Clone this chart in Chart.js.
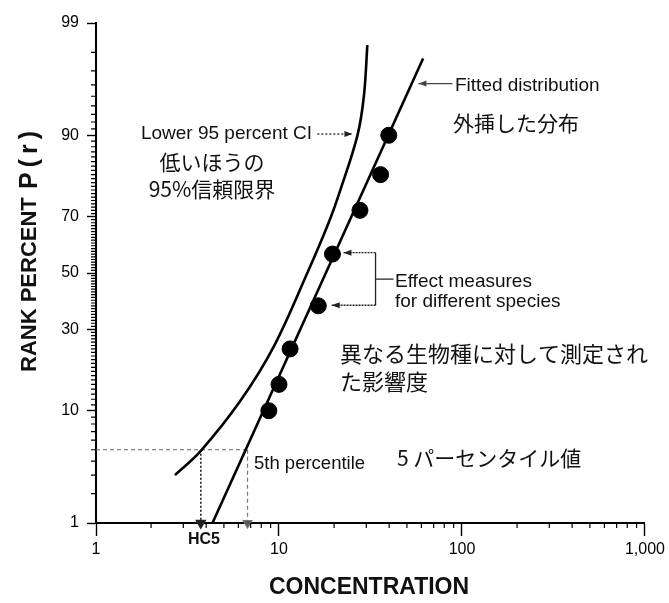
<!DOCTYPE html>
<html>
<head>
<meta charset="utf-8">
<script src="https://cdn.jsdelivr.net/npm/chart.js@4.4.1/dist/chart.umd.min.js"></script>
<style>
  body { margin: 0; background: #fff; }
  #wrap { width: 669px; height: 603px; }
</style>
</head>
<body>
<div id="wrap"><canvas id="ssdChart"></canvas></div>
<script>
// Effect measures for the species (concentration, rank percent)
const speciesConc = [8.8, 10.0, 11.5, 16.4, 19.6, 27.7, 35.9, 39.8];
const speciesRank = [10, 15, 24, 38, 57, 72, 82, 90];
// Fitted distribution (straight line on probit / log paper)
const fittedConc = [4.33, 61.3];
const fittedRank = [1, 97.7];
// Lower 95 percent confidence limit
const lowerConc = [2.7, 3.74, 6.18, 9.39, 14.3, 18.7, 21.7, 26.8, 29.1, 30.4];
const lowerRank = [3.0, 4.9, 11.8, 24.8, 50.1, 68.1, 78.2, 89.9, 95.0, 98.3];
// 5th percentile read-offs
const pct5Rank = 5;
const hc5Conc = 3.74;
const fit5Conc = 6.73;
// Axis ticks
const yTickPercents = [1, 10, 30, 50, 70, 90, 99];
const yTickLabels = ["1", "10", "30", "50", "70", "90", "99"];
const xTickValues = [1, 10, 100, 1000];
const xTickLabels = ["1", "10", "100", "1,000"];
const xMinorValues = [2, 3, 4, 5, 6, 7, 8, 9, 20, 30, 40, 50, 60, 70, 80, 90, 200, 300, 400, 500, 600, 700, 800, 900];
const yMinorPercents = [];
for (let p = 2; p <= 98; p++) {
  if (!yTickPercents.includes(p)) yMinorPercents.push(p);
}

const SANS = '"Liberation Sans", Arial, Helvetica, sans-serif';
const JP = '"Noto Sans CJK JP", "Noto Sans", sans-serif';

//Inverse normal CDF (probability paper), percent -> z
function probit(percent) {
  const p = percent / 100;
  const a = [-39.69683028665376, 220.9460984245205, -275.9285104469687, 138.357751867269, -30.66479806614716, 2.506628277459239];
  const b = [-54.47609879822406, 161.5858368580409, -155.6989798598866, 66.80131188771972, -13.28068155288572];
  const c = [-0.007784894002430293, -0.3223964580411365, -2.400758277161838, -2.549732539343734, 4.374664141464968, 2.938163982698783];
  const d = [0.007784695709041462, 0.3224671290700398, 2.445134137142996, 3.754408661907416];
  const tail = (q) =>
    (((((c[0] * q + c[1]) * q + c[2]) * q + c[3]) * q + c[4]) * q + c[5]) /
    ((((d[0] * q + d[1]) * q + d[2]) * q + d[3]) * q + 1);
  if (p < 0.02425) return tail(Math.sqrt(-2 * Math.log(p)));
  if (p > 0.97575) return -tail(Math.sqrt(-2 * Math.log(1 - p)));
  const q = p - 0.5, r = q * q;
  return ((((((a[0] * r + a[1]) * r + a[2]) * r + a[3]) * r + a[4]) * r + a[5]) * q) /
    (((((b[0] * r + b[1]) * r + b[2]) * r + b[3]) * r + b[4]) * r + 1);
}

const toPoints = (xs, ps) => xs.map((x, i) => ({ x: x, y: probit(ps[i]) }));

//Draws the short minor ticks on both axes
const minorTicks = {
  id: "minorTicks",
  afterDraw(chart) {
    const { ctx, chartArea, scales } = chart;
    ctx.save();
    ctx.strokeStyle = "#000";
    ctx.lineWidth = 1.2;
    ctx.beginPath();
    yMinorPercents.forEach((p) => {
      const y = scales.y.getPixelForValue(probit(p));
      ctx.moveTo(chartArea.left - 5, y);
      ctx.lineTo(chartArea.left, y);
    });
    xMinorValues.forEach((v) => {
      const x = scales.x.getPixelForValue(v);
      ctx.moveTo(x, chartArea.bottom);
      ctx.lineTo(x, chartArea.bottom + 5);
    });
    ctx.stroke();
    ctx.restore();
  },
};

//Labels, arrows and axis titles
const notes = {
  id: "notes",
  afterDraw(chart) {
    const { ctx, scales } = chart;
    const px = (v) => scales.x.getPixelForValue(v);
    const py = (p) => scales.y.getPixelForValue(probit(p));

    function arrow(x1, y1, x2, y2, dash, color) {
      ctx.save();
      ctx.strokeStyle = color;
      ctx.fillStyle = color;
      ctx.lineWidth = 1.3;
      ctx.setLineDash(dash);
      ctx.beginPath();
      ctx.moveTo(x1, y1);
      ctx.lineTo(x2, y2);
      ctx.stroke();
      ctx.setLineDash([]);
      const ang = Math.atan2(y2 - y1, x2 - x1);
      ctx.beginPath();
      ctx.moveTo(x2, y2);
      ctx.lineTo(x2 - 8 * Math.cos(ang) + 3 * Math.sin(ang), y2 - 8 * Math.sin(ang) - 3 * Math.cos(ang));
      ctx.lineTo(x2 - 8 * Math.cos(ang) - 3 * Math.sin(ang), y2 - 8 * Math.sin(ang) + 3 * Math.cos(ang));
      ctx.closePath();
      ctx.fill();
      ctx.restore();
    }

    function text(str, x, y, font, align) {
      ctx.font = font;
      ctx.textAlign = align || "left";
      ctx.fillText(str, x, y);
    }

    // arrows
    arrow(px(16.2), py(90.2), px(25.2), py(90.2), [2, 2], "#222");
    arrow(px(88.6), py(96.1), px(57.8), py(96.1), [], "#444");
    ctx.save();
    ctx.strokeStyle = "#222";
    ctx.lineWidth = 1.3;
    ctx.beginPath();
    ctx.moveTo(px(42.2), py(47.7));
    ctx.lineTo(px(33.7), py(47.7));
    ctx.moveTo(px(33.7), py(57.5));
    ctx.lineTo(px(33.7), py(38.2));
    ctx.stroke();
    ctx.restore();
    arrow(px(33.7), py(57.5), px(22.5), py(57.5), [2, 1], "#222");
    arrow(px(33.7), py(38.2), px(19.4), py(38.2), [2, 1], "#222");

    ctx.save();
    ctx.fillStyle = "#111";
    ctx.textBaseline = "middle";
    text("Lower 95 percent CI", 312, 134, "19px " + SANS, "right");
    text("低いほうの", 212, 162, "21px " + JP, "center");
    text("95%信頼限界", 212, 189, "21px " + JP, "center");
    text("Fitted distribution", 455, 86, "19px " + SANS);
    text("外挿した分布", 453, 123, "21px " + JP);
    text("Effect measures", 395, 282, "19px " + SANS);
    text("for different species", 395, 302, "19px " + SANS);
    text("異なる生物種に対して測定され", 340, 354, "22px " + JP);
    text("た影響度", 340, 382, "22px " + JP);
    text("5th percentile", 254, 464, "18.5px " + SANS);
    text("5 パーセンタイル値", 397, 458, "21px " + JP);
    text("HC5", 204, 540, "bold 16px " + SANS, "center");
    text("CONCENTRATION", 369, 588, "bold 23px " + SANS, "center");

    // rotated y title
    ctx.translate(30, 372);
    ctx.rotate(-Math.PI / 2);
    text("RANK PERCENT", 0, 0, "bold 22px " + SANS);
    ctx.letterSpacing = "5px";
    text("P(r)", 183, 0, "bold 25px " + SANS);
    ctx.restore();
  },
};

const ctx = document.getElementById("ssdChart").getContext("2d");
new Chart(ctx, {
  type: "scatter",
  data: {
    datasets: [
      {
        label: "Effect measures",
        data: toPoints(speciesConc, speciesRank),
        pointRadius: 8,
        backgroundColor: "#000",
        borderColor: "#000",
      },
      {
        label: "Fitted distribution",
        data: toPoints(fittedConc, fittedRank),
        showLine: true,
        borderColor: "#000",
        borderWidth: 2.6,
        pointRadius: 0,
        clip: false,
      },
      {
        label: "Lower 95 percent CI",
        data: toPoints(lowerConc, lowerRank),
        showLine: true,
        tension: 0.35,
        borderColor: "#000",
        borderWidth: 2.6,
        pointRadius: 0,
        clip: false,
      },
      {
        label: "5th percentile",
        data: toPoints([1, fit5Conc], [pct5Rank, pct5Rank]),
        showLine: true,
        borderColor: "#666",
        borderWidth: 1.2,
        borderDash: [4, 3],
        pointRadius: 0,
      },
      {
        label: "HC5",
        data: toPoints([hc5Conc, hc5Conc], [pct5Rank, 1]),
        showLine: true,
        borderColor: "#222",
        backgroundColor: "#222",
        borderWidth: 1.6,
        borderDash: [2, 2],
        pointRadius: [0, 5],
        pointStyle: "triangle",
        pointRotation: 180,
        clip: false,
      },
      {
        label: "Fitted 5th",
        data: toPoints([fit5Conc, fit5Conc], [pct5Rank, 1]),
        showLine: true,
        borderColor: "#777",
        backgroundColor: "#555",
        borderWidth: 1.2,
        borderDash: [4, 3],
        pointRadius: [0, 5],
        pointStyle: "triangle",
        pointRotation: 180,
        clip: false,
      },
    ],
  },
  options: {
    responsive: true,
    maintainAspectRatio: false,
    animation: false,
    layout: { padding: { top: 23, right: 24, left: 0, bottom: 0 } },
    plugins: {
      legend: { display: false },
      tooltip: { enabled: false },
    },
    scales: {
      x: {
        type: "logarithmic",
        min: 1,
        max: 1000,
        afterFit: (scale) => { scale.height = 80; },
        afterBuildTicks: (scale) => {
          scale.ticks = xTickValues.map((v) => ({ value: v }));
        },
        ticks: {
          autoSkip: false,
          maxRotation: 0,
          padding: 4,
          color: "#000",
          font: { size: 16, family: SANS },
          callback: (value, index) => xTickLabels[index],
        },
        grid: {
          drawOnChartArea: false,
          tickLength: 13,
          tickColor: "#000",
          tickWidth: 1.4,
        },
        border: { color: "#000", width: 2 },
      },
      y: {
        type: "linear",
        min: probit(1),
        max: probit(99),
        afterFit: (scale) => { scale.width = 96; },
        afterBuildTicks: (scale) => {
          scale.ticks = yTickPercents.map((p) => ({ value: probit(p) }));
        },
        ticks: {
          autoSkip: false,
          padding: 8,
          color: "#000",
          font: { size: 16, family: SANS },
          callback: (value, index) => yTickLabels[index],
        },
        grid: {
          drawOnChartArea: false,
          tickLength: 9,
          tickColor: "#000",
          tickWidth: 1.4,
        },
        border: { color: "#000", width: 2 },
      },
    },
  },
  plugins: [minorTicks, notes],
});
</script>
</body>
</html>
